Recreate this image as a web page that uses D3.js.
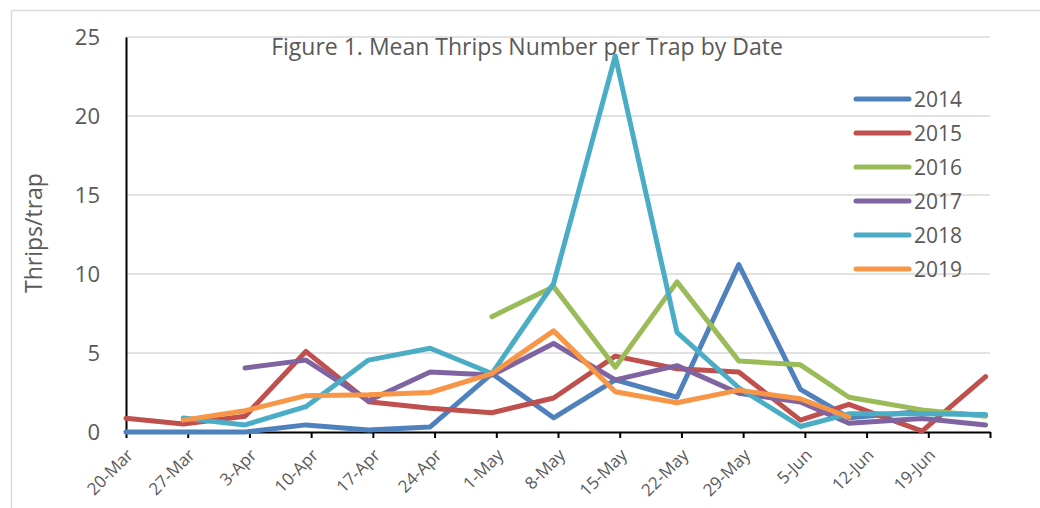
<!DOCTYPE html>
<html>
<head>
<meta charset="utf-8">
<script src="https://cdn.jsdelivr.net/npm/d3@7"></script>
<style>
  html, body { margin: 0; padding: 0; background: #fff; }
  svg { display: block; font-family: "Open Sans", "Noto Sans", sans-serif; }
</style>
</head>
<body>
<div id="chart"></div>
<script>
// week labels on the date axis (last tick, 26-Jun, carries no label)
const weekLabels = ["20-Mar", "27-Mar", "3-Apr", "10-Apr", "17-Apr", "24-Apr", "1-May",
  "8-May", "15-May", "22-May", "29-May", "5-Jun", "12-Jun", "19-Jun", ""];
// day (after 20-Mar) at which each weekly sample was plotted
const sampleDays = [0, 6.5, 13.5, 20.4, 27.5, 34.5, 41.5, 48.5, 55.5, 62.5, 69.5, 76.5, 82, 90.3, 97.5];
const yTicks = [0, 5, 10, 15, 20, 25];

const years = ["2014", "2015", "2016", "2017", "2018", "2019"];
const colors = ["#4f81bd", "#c0504d", "#9bbb59", "#8064a2", "#4bacc6", "#f79646"];

const v2014 = [0, 0, 0, 0.45, 0.12, 0.32, 3.7, 0.9, 3.3, 2.2, 10.6, 2.7, 0.9, 1.3, 1.05];
const v2015 = [0.87, 0.5, 1.0, 5.1, 1.92, 1.5, 1.22, 2.15, 4.8, 4.0, 3.8, 0.75, 1.75, 0.05, 3.5];
const v2016 = [null, null, null, null, null, null, 7.3, 9.2, 4.1, 9.5, 4.5, 4.25, 2.2, 1.4, 1.0];
const v2017 = [null, null, 4.05, 4.55, 1.98, 3.8, 3.6, 5.6, 3.3, 4.2, 2.45, 1.9, 0.55, 0.85, 0.45];
const v2018 = [null, 0.88, 0.45, 1.6, 4.55, 5.3, 3.7, 9.4, 23.8, 6.3, 2.8, 0.35, 1.15, 1.15, 1.1];
const v2019 = [null, 0.75, 1.35, 2.3, 2.35, 2.5, 3.7, 6.4, 2.55, 1.85, 2.65, 2.1, 0.95, null, null];
const seriesValues = [v2014, v2015, v2016, v2017, v2018, v2019];

const W = 1040, H = 508;
const svg = d3.select("#chart").append("svg")
  .attr("width", W).attr("height", H);

svg.append("rect").attr("width", W).attr("height", H).attr("fill", "#fff");
// chart frame
svg.append("rect")
  .attr("x", 11.5).attr("y", 10.5).attr("width", W + 10).attr("height", H + 10)
  .attr("fill", "none").attr("stroke", "#d9d9d9").attr("stroke-width", 1.5);

const x = d3.scaleLinear().domain([0, 98]).range([126, 990]);
const y = d3.scaleLinear().domain([0, 25]).range([432, 37]);
const tickDays = weekLabels.map((d, i) => i * 7);

// gridlines
svg.append("g").selectAll("line").data(yTicks.filter(t => t > 0)).enter().append("line")
  .attr("x1", x(0)).attr("x2", x(98))
  .attr("y1", d => y(d)).attr("y2", d => y(d))
  .attr("stroke", "#d9d9d9").attr("stroke-width", 1.5);

// y axis
const yAxis = svg.append("g").attr("transform", `translate(${x(0)},0)`)
  .call(d3.axisLeft(y).tickValues(yTicks).tickSize(0).tickPadding(26));
yAxis.attr("font-family", null).attr("font-size", null);
yAxis.select(".domain").attr("stroke", "#000").attr("stroke-width", 2);
yAxis.selectAll("text").attr("fill", "#595959").style("font-size", "22px");

// x axis
const xAxis = svg.append("g").attr("transform", `translate(0,${y(0)})`)
  .call(d3.axisBottom(x).tickValues(tickDays).tickSizeInner(6).tickSizeOuter(0).tickFormat(""));
xAxis.select(".domain").attr("stroke", "#000").attr("stroke-width", 2);
xAxis.selectAll(".tick line").attr("stroke", "#000").attr("stroke-width", 2);

svg.append("g").selectAll("text").data(weekLabels).enter().append("text")
  .attr("transform", (d, i) => `translate(${x(tickDays[i]) + 4},${y(0) + 20}) rotate(-45)`)
  .attr("text-anchor", "end")
  .attr("dy", "0.35em")
  .attr("fill", "#595959")
  .style("font-size", "17px")
  .text(d => d);

// y title
svg.append("text")
  .attr("transform", "translate(42,233) rotate(-90)")
  .attr("text-anchor", "middle")
  .attr("fill", "#595959")
  .style("font-size", "23px")
  .text("Thrips/trap");

// series lines
const line = d3.line()
  .defined(d => d.v !== null)
  .x(d => x(d.day))
  .y(d => y(d.v));

svg.append("g").selectAll("path").data(seriesValues).enter().append("path")
  .attr("d", vals => line(vals.map((v, i) => ({ day: sampleDays[i], v }))))
  .attr("fill", "none")
  .attr("stroke", (d, i) => colors[i])
  .attr("stroke-width", 5)
  .attr("stroke-linejoin", "round")
  .attr("stroke-linecap", "round");

// title
svg.append("text")
  .attr("x", 527).attr("y", 55)
  .attr("text-anchor", "middle")
  .attr("fill", "#595959")
  .style("font-size", "23px")
  .text("Figure 1. Mean Thrips Number per Trap by Date");

// legend
const legend = svg.append("g").selectAll("g").data(years).enter().append("g")
  .attr("transform", (d, i) => `translate(856,${99 + i * 34})`);
legend.append("line")
  .attr("x1", 0).attr("x2", 53)
  .attr("stroke", (d, i) => colors[i])
  .attr("stroke-width", 5)
  .attr("stroke-linecap", "round");
legend.append("text")
  .attr("x", 58).attr("dy", "0.36em")
  .attr("fill", "#595959")
  .style("font-size", "21px")
  .text(d => d);
</script>
</body>
</html>
